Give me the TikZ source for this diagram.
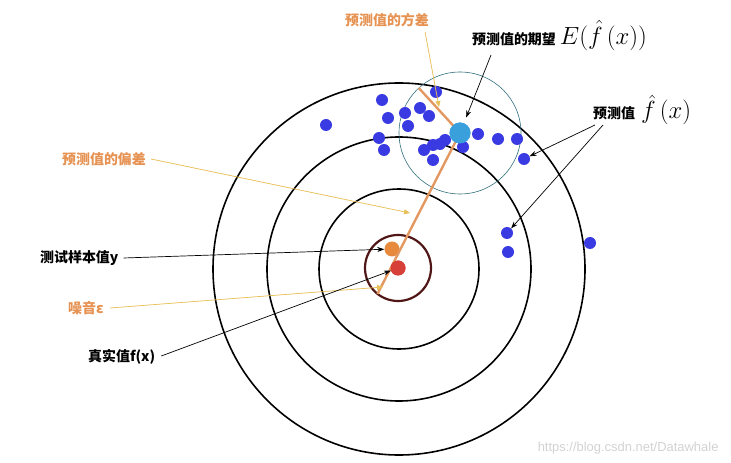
\documentclass[tikz,border=0pt]{standalone}
\usepackage{fontspec}
\newfontfamily\cjk{Noto Sans CJK SC}
\newfontfamily\wmfont{Liberation Sans}
\usepackage{tikz}
\usetikzlibrary{arrows.meta,positioning,calc}
\definecolor{predblue}   {RGB}{58,58,226}
\definecolor{meanblue}   {RGB}{58,160,220}
\definecolor{truered}    {RGB}{214,64,56}
\definecolor{testorange} {RGB}{232,138,62}
\definecolor{lblorange}  {RGB}{230,146,82}
\definecolor{lineorange} {RGB}{226,152,96}
\definecolor{arwyellow}  {RGB}{232,192,90}
\definecolor{noisebrown} {RGB}{80,22,22}
\definecolor{varteal}    {RGB}{50,110,125}
\newcommand\bigmath{\fontsize{23}{26}\selectfont}
\tikzset{
  cnlbl/.style   ={font=\cjk\bfseries\fontsize{14}{16}\selectfont, inner sep=2pt},
  orlbl/.style   ={cnlbl, text=lblorange},
  preddot/.style ={circle, fill=predblue, minimum size=12bp, inner sep=0pt},
  ring/.style    ={line width=1.6pt},
  blkarr/.style  ={-{Stealth[length=7pt,width=5pt]}, line width=0.7pt},
  yelarr/.style  ={-{Triangle[length=6pt,width=5pt]}, draw=arwyellow,
                   fill=arwyellow, line width=0.7pt},
  segline/.style ={draw=lineorange, line width=2.4pt},
}

\begin{document}
\begin{tikzpicture}[x=1bp, y=-1bp]
  \useasboundingbox (0,0) rectangle (731,463);

  % target rings
  \coordinate (ctr) at (399,269);
  \draw[ring] (ctr) circle[radius=186bp];
  \draw[ring] (ctr) circle[radius=132bp];
  \draw[ring] (ctr) circle[radius=80bp];

  \node[circle, fill=truered, minimum size=15bp, inner sep=0pt] (truedot) at (398,268) {};
  \node[circle, fill=testorange, minimum size=15bp, inner sep=0pt] (testdot) at (392,249) {};
  \draw[noisebrown, line width=2.2pt] (truedot) circle[radius=33bp];

  \node[circle, fill=meanblue, minimum size=21bp, inner sep=0pt] (meandot) at (460,133) {};
  \draw[varteal, line width=0.6pt] (meandot) circle[radius=61bp];

  % bias / variance / noise segments
  \coordinate (varedge)   at ($(meandot)+(132.5:61bp)$);
  \coordinate (noiseedge) at ($(truedot)+(231.6:33bp)$);
  \draw[segline] (varedge) -- (meandot.center);
  \draw[segline] (meandot.center) -- (noiseedge);

  % predictions
  \foreach \px/\py [count=\i] in {436/92,382/100,388/118,405/113,420/108,
      429/116,408/126,379/138,384/150,424/150,433/145,440/144,445/140,
      433/160,463/147,478/134,498/139,517/139,524/159,507/233,508/252,
      590/243,326/125}
    \node[preddot] (p\i) at (\px,\py) {};

  \node[circle, fill=meanblue, minimum size=21bp, inner sep=0pt] at (meandot) {};
  \node[circle, fill=truered, minimum size=15bp, inner sep=0pt] at (truedot) {};

  % labels
  \node[orlbl, anchor=west] (varlbl)   at (343,20)  {预测值的方差};
  \node[cnlbl, anchor=base west] (meanlbl) at (470,44.5)
        {预测值的期望\hspace{4bp}{\bigmath$E(\hat{f}\,(x))$}};
  \node[cnlbl, anchor=base west] (predlbl) at (591,119)
        {预测值\hspace{6bp}{\bigmath$\hat{f}\,(x)$}};
  \node[orlbl, anchor=west] (biaslbl)  at (60,159)  {预测值的偏差};
  \node[cnlbl, anchor=west] (testlbl)  at (38,258)  {测试样本值y};
  \node[orlbl, anchor=west] (noiselbl) at (66,308)  {噪音ε};
  \node[cnlbl, anchor=west] (truelbl)  at (86,357)  {真实值f(x)};
  \node[font=\wmfont\fontsize{13}{15}\selectfont, text=gray!35, anchor=east]
        (wmark) at (722,448) {https://blog.csdn.net/Datawhale};

  % pointers
  \coordinate (vartip)   at (439,107);
  \coordinate (biastip)  at (410,213);
  \coordinate (noisetip) at (383,287);
  \draw[yelarr] ([xshift=-6bp,yshift=-3bp]varlbl.south east) -- (vartip);
  \draw[yelarr] ([xshift=3bp]biaslbl.east) -- (biastip);
  \draw[yelarr] ([xshift=4bp]noiselbl.east) -- (noisetip);
  \draw[blkarr] ([xshift=3bp]testlbl.east) -- (testdot);
  \draw[blkarr] ([xshift=4bp,yshift=1bp]truelbl.east) -- (truedot);
  \draw[blkarr, shorten >=6bp] ([xshift=21bp,yshift=-10.5bp]meanlbl.base west) -- (meandot);
  \draw[blkarr] ([xshift=4bp,yshift=-6bp]predlbl.base west) -- (p19);
  \draw[blkarr] ([xshift=12bp,yshift=-6bp]predlbl.base west) -- (p20);
\end{tikzpicture}
\end{document}
